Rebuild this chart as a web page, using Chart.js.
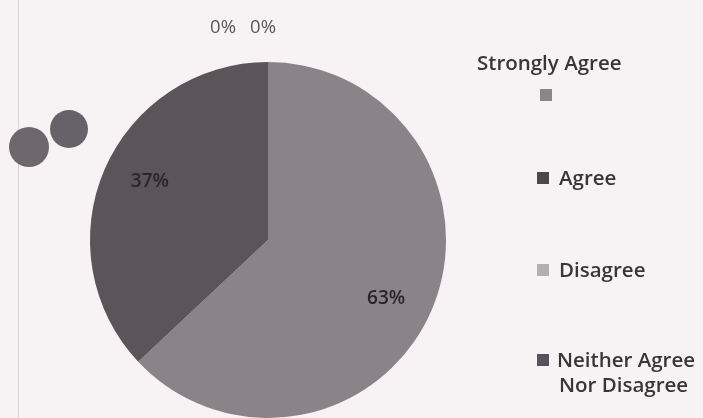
<!DOCTYPE html>
<html>
<head>
<meta charset="utf-8">
<script src="https://cdn.jsdelivr.net/npm/chart.js@4"></script>
<style>
html,body{margin:0;padding:0;background:#f7f2f3;}
#wrap{position:relative;width:703px;height:418px;overflow:hidden;}
#c{position:absolute;left:0;top:0;}
#legend{position:absolute;left:0;top:0;width:703px;height:418px;pointer-events:none;font-family:"Open Sans",sans-serif;font-size:20.5px;font-weight:600;color:#3a3538;}
.li{position:absolute;white-space:nowrap;line-height:24px;height:24px;}
.sw{position:absolute;width:12px;height:12px;}
</style>
</head>
<body>
<div id="wrap">
<canvas id="c" width="703" height="418"></canvas>
<div id="legend"></div>
</div>
<script>
const categories = ["Strongly Agree", "Agree", "Disagree", "Neither Agree Nor Disagree"];
const values = [63, 37, 0, 0];
const labelsText = ["63%", "37%", "0%", "0%"];
const sliceColors = ["#8a8488", "#5b5458", "#aba6a9", "#4f4a4e"];
const legendColors = ["#8a8588", "#4c474a", "#b3aeb1", "#58525a"];

// decorative scan artifacts (two gray dots) and page edge line
const decor = {
  id: 'decor',
  beforeDraw(chart) {
    const ctx = chart.ctx;
    ctx.save();
    ctx.fillStyle = '#f7f2f3';
    ctx.fillRect(0, 0, chart.width, chart.height);
    ctx.strokeStyle = '#dcd6d8';
    ctx.lineWidth = 1;
    ctx.beginPath(); ctx.moveTo(18.5, 0); ctx.lineTo(18.5, 418); ctx.stroke();
    ctx.fillStyle = '#6e686c';
    ctx.beginPath(); ctx.arc(29, 147, 20, 0, Math.PI * 2); ctx.fill();
    ctx.fillStyle = '#67626a';
    ctx.beginPath(); ctx.arc(69, 129, 19, 0, Math.PI * 2); ctx.fill();
    ctx.restore();
  }
};

const dataLabels = {
  id: 'dataLabels',
  afterDatasetsDraw(chart) {
    const ctx = chart.ctx;
    const meta = chart.getDatasetMeta(0);
    ctx.save();
    ctx.textAlign = 'center';
    ctx.textBaseline = 'middle';
    let zeroIdx = 0;
    const zeroOffsets = [-45, -5];
    meta.data.forEach((arc, i) => {
      const p = arc.getProps(['x', 'y', 'startAngle', 'endAngle', 'outerRadius'], true);
      const mid = (p.startAngle + p.endAngle) / 2;
      if (values[i] === 0) {
        const r = p.outerRadius * 1.19;
        const x = p.x + Math.cos(mid) * r + zeroOffsets[zeroIdx++];
        const y = p.y + Math.sin(mid) * r;
        ctx.font = '18.5px "Open Sans", sans-serif';
        ctx.fillStyle = '#5a5558';
        ctx.fillText(labelsText[i], x, y);
      } else {
        const r = p.outerRadius * 0.74;
        const a = mid + (Math.cos(mid) > 0 ? 0.05 : 0.05);
        ctx.font = '600 19px "Open Sans", sans-serif';
        ctx.fillStyle = '#2a2628';
        ctx.fillText(labelsText[i], p.x + Math.cos(a) * r, p.y + Math.sin(a) * r);
      }
    });
    ctx.restore();
  }
};

new Chart(document.getElementById('c'), {
  type: 'pie',
  data: {
    labels: categories,
    datasets: [{ data: values, backgroundColor: sliceColors, borderWidth: 0 }]
  },
  options: {
    responsive: false,
    animation: false,
    layout: { padding: { left: 90, right: 257, top: 62, bottom: 0 } },
    plugins: { legend: { display: false }, tooltip: { enabled: false } }
  },
  plugins: [decor, dataLabels]
});

// legend (HTML)
const leg = document.getElementById('legend');
function addText(txt, left, cy) {
  const d = document.createElement('div');
  d.className = 'li';
  d.style.left = left + 'px';
  d.style.top = (cy - 12) + 'px';
  d.textContent = txt;
  leg.appendChild(d);
}
function addSwatch(color, left, cy) {
  const s = document.createElement('div');
  s.className = 'sw';
  s.style.background = color;
  s.style.left = left + 'px';
  s.style.top = (cy - 6) + 'px';
  leg.appendChild(s);
}
// Strongly Agree: label above, swatch below
addText(categories[0], 477, 62);
addSwatch(legendColors[0], 540, 95);
// Agree
addSwatch(legendColors[1], 537, 178);
addText(categories[1], 559, 177);
// Disagree
addSwatch(legendColors[2], 537, 270);
addText(categories[2], 559, 269);
// Neither Agree / Nor Disagree (wrapped)
addSwatch(legendColors[3], 537, 360);
addText("Neither Agree", 557, 359);
addText("Nor Disagree", 559, 384);
</script>
</body>
</html>
